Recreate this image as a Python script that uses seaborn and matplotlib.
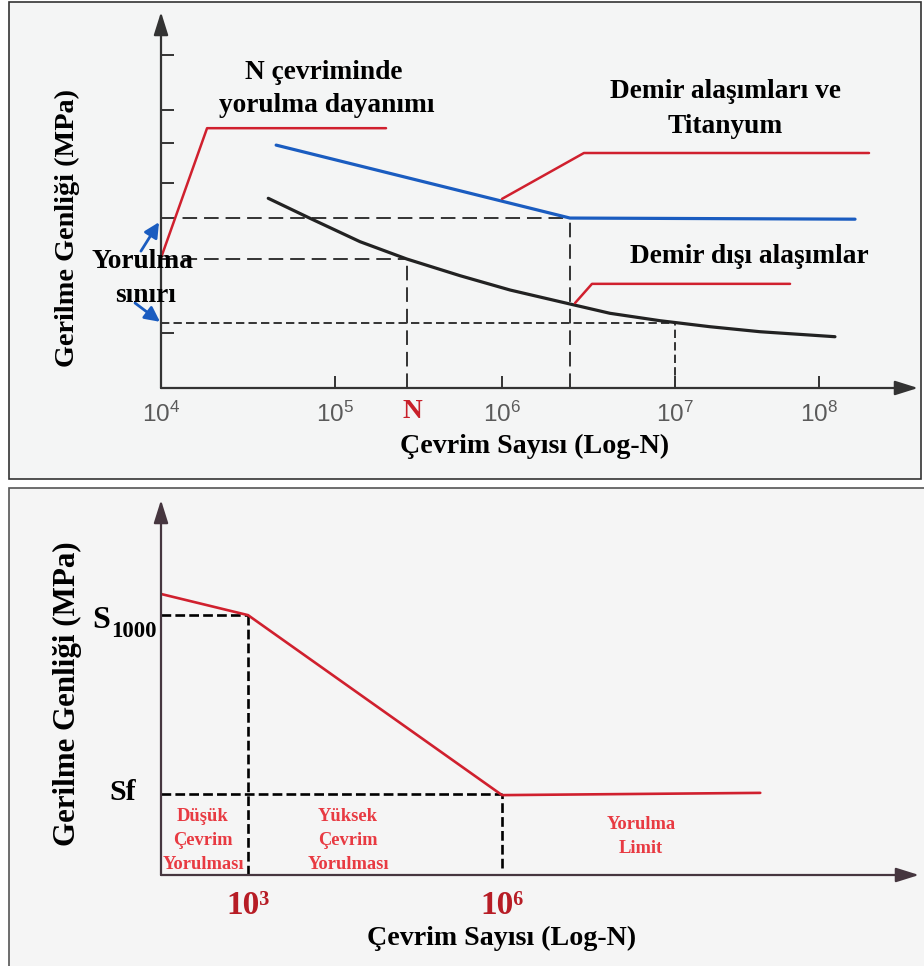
import matplotlib
matplotlib.use("Agg")
import matplotlib.pyplot as plt
import seaborn as sns
import pandas as pd
from matplotlib.patches import Rectangle

# ---------------- data: top panel (x = log10 N position, y = stress amplitude, arbitrary units) -------------
top_tick_pos = [4.0, 5.058, 6.073, 7.125, 8.0]
top_tick_labels = [r"$\mathregular{10^{4}}$", r"$\mathregular{10^{5}}$", r"$\mathregular{10^{6}}$",
                   r"$\mathregular{10^{7}}$", r"$\mathregular{10^{8}}$"]
top_yticks = [88.6, 73.9, 65.2, 54.5, 14.6]

ferrous_x = [4.70, 6.486, 8.219]
ferrous_y = [64.6, 45.2, 44.9]

nonferrous_x = [4.652, 4.906, 5.210, 5.494, 5.818, 6.122, 6.426, 6.729, 7.033, 7.337, 7.641, 8.097]
nonferrous_y = [50.45, 45.13, 38.91, 34.31, 29.87, 26.06, 22.95, 19.87, 17.90, 16.30, 14.97, 13.64]

n_cycle_x, n_strength_y = 5.495, 34.3
ferrous_limit_x, ferrous_limit_y = 6.486, 45.1
nonferrous_limit_x, nonferrous_limit_y = 7.125, 17.4

# leader lines (label pointers)
lead1_x = [4.0, 4.280, 5.368]
lead1_y = [34.6, 69.1, 69.1]
lead2_x = [6.073, 6.571, 8.304]
lead2_y = [50.3, 62.5, 62.5]
lead3_x = [6.517, 6.620, 7.824]
lead3_y = [22.6, 27.7, 27.7]

# ---------------- data: bottom panel (x = log10 N) ----------------
sn_x = [1.98, 3.0, 6.0, 9.05]
sn_y = [74.9, 69.3, 21.3, 21.9]
bottom_tick_pos = [3, 6]
bottom_tick_labels = ["10³", "10⁶"]
s1000_x, s1000_y = 3.0, 69.3
sf_x, sf_y = 6.0, 21.6

# ---------------- style ----------------
sns.set_style("white")
plt.rcParams["font.family"] = ["Liberation Serif", "DejaVu Serif"]
plt.rcParams["lines.scale_dashes"] = False
plt.rcParams["text.color"] = "black"

W, H = 924, 966
fig = plt.figure(figsize=(W / 100, H / 100), dpi=100, facecolor="white")


def fx(px):
    return px / W


def fy(py):
    return 1 - py / H


# panel frames
fig.patches.append(Rectangle((fx(9), fy(479)), fx(921) - fx(9), fy(2) - fy(479),
                             transform=fig.transFigure, facecolor="#f4f5f5",
                             edgecolor="#333333", lw=1.2, zorder=-10))
fig.patches.append(Rectangle((fx(9), fy(975)), fx(935) - fx(9), fy(488) - fy(975),
                             transform=fig.transFigure, facecolor="#f5f5f5",
                             edgecolor="#555555", lw=1.2, zorder=-10))

RED = "#d0202e"
BLUE = "#1a5cc0"
AX = "#333333"
BOLD = dict(fontweight="bold", family=["Liberation Serif", "DejaVu Serif"])

# ================= top panel =================
ax1 = fig.add_axes([fx(161), fy(388), fx(918) - fx(161), fy(12) - fy(388)])
ax1.set_facecolor("none")
for s in ax1.spines.values():
    s.set_visible(False)
ax1.set_xlim(4.0, 4.0 + 757 / 164.5)
ax1.set_ylim(0, 100)

ax1.annotate("", xy=(1, 0), xytext=(0, 0), xycoords="axes fraction",
             arrowprops=dict(arrowstyle="-|>,head_length=0.7,head_width=0.22", color=AX,
                             lw=1.6, shrinkA=0, shrinkB=0, mutation_scale=20))
ax1.annotate("", xy=(0, 1), xytext=(0, 0), xycoords="axes fraction",
             arrowprops=dict(arrowstyle="-|>,head_length=0.7,head_width=0.22", color=AX,
                             lw=1.6, shrinkA=0, shrinkB=0, mutation_scale=20))

ax1.set_xticks(top_tick_pos, top_tick_labels, family="Liberation Sans")
ax1.tick_params(axis="x", bottom=True, direction="in", length=9, width=1.4, color=AX,
                pad=10, labelsize=17.5, labelcolor="#5a5a5a")
ax1.set_yticks(top_yticks, [""] * len(top_yticks))
ax1.tick_params(axis="y", left=True, direction="in", length=9, width=1.4, color=AX)

# guide dashed lines
long_dash = (0, (10.5, 5))
short_dash = (0, (6, 3))
ax1.plot([4.0, ferrous_limit_x], [ferrous_limit_y] * 2, color="#333", lw=1.4, ls=long_dash)
ax1.plot([ferrous_limit_x] * 2, [0, ferrous_limit_y], color="#333", lw=1.4, ls=long_dash)
ax1.plot([4.0, n_cycle_x], [n_strength_y] * 2, color="#333", lw=1.4, ls=long_dash)
ax1.plot([n_cycle_x] * 2, [0, n_strength_y], color="#333", lw=1.4, ls=long_dash)
ax1.plot([4.0, nonferrous_limit_x], [nonferrous_limit_y] * 2, color="#333", lw=1.4, ls=short_dash)
ax1.plot([nonferrous_limit_x] * 2, [0, nonferrous_limit_y], color="#333", lw=1.4, ls=short_dash)

# curves
df_fe = pd.DataFrame({"N": ferrous_x, "S": ferrous_y})
df_nf = pd.DataFrame({"N": nonferrous_x, "S": nonferrous_y})
sns.lineplot(data=df_fe, x="N", y="S", ax=ax1, color=BLUE, lw=2.3, sort=False, estimator=None)
sns.lineplot(data=df_nf, x="N", y="S", ax=ax1, color="#222222", lw=2.3, sort=False, estimator=None)
ax1.set_xlabel("")
ax1.set_ylabel("")

# leader lines
for lx, ly in [(lead1_x, lead1_y), (lead2_x, lead2_y), (lead3_x, lead3_y)]:
    ax1.plot(lx, ly, color=RED, lw=1.8, clip_on=False)

# blue arrows to fatigue limits
for (x0, y0), (x1, y1) in [((3.878, 36.4), (3.988, 44.1)), ((3.842, 22.6), (3.994, 17.6))]:
    ax1.annotate("", xy=(x1, y1), xytext=(x0, y0), annotation_clip=False,
                 arrowprops=dict(arrowstyle="-|>,head_length=0.5,head_width=0.25", color=BLUE,
                                 lw=2.0, shrinkA=0, shrinkB=0, mutation_scale=18))

# texts top
fs = 19.7
fig.text(fx(323.5), fy(79), "N çevriminde", ha="center", va="baseline", fontsize=fs, **BOLD)
fig.text(fx(326.5), fy(112), "yorulma dayanımı", ha="center", va="baseline", fontsize=fs, **BOLD)
fig.text(fx(725), fy(98), "Demir alaşımları ve", ha="center", va="baseline", fontsize=fs, **BOLD)
fig.text(fx(725.5), fy(133), "Titanyum", ha="center", va="baseline", fontsize=fs, **BOLD)
fig.text(fx(749), fy(263), "Demir dışı alaşımlar", ha="center", va="baseline", fontsize=fs, **BOLD)
fig.text(fx(143), fy(268), "Yorulma", ha="center", va="baseline", fontsize=fs, zorder=5, **BOLD)
fig.text(fx(146), fy(302), "sınırı", ha="center", va="baseline", fontsize=fs, zorder=5, **BOLD)
fig.text(fx(412), fy(418), "N", ha="center", va="baseline", fontsize=fs, color="#c8202a", **BOLD)
fig.text(fx(535), fy(453), "Çevrim Sayısı (Log-N)", ha="center", va="baseline", fontsize=20.2, **BOLD)
fig.text(fx(67), fy(228), "Gerilme Genliği (MPa)", ha="center", va="center", rotation=90,
         fontsize=20.3, **BOLD)

# ================= bottom panel =================
AX2 = "#46363f"
ax2 = fig.add_axes([fx(161), fy(875), fx(919) - fx(161), fy(500) - fy(875)])
ax2.set_facecolor("none")
for s in ax2.spines.values():
    s.set_visible(False)
ax2.set_xlim(3 - 87 / 84.67, 3 + 671 / 84.67)
ax2.set_ylim(0, 100)
ax2.annotate("", xy=(1, 0), xytext=(0, 0), xycoords="axes fraction",
             arrowprops=dict(arrowstyle="-|>,head_length=0.7,head_width=0.22", color=AX2,
                             lw=1.6, shrinkA=0, shrinkB=0, mutation_scale=20))
ax2.annotate("", xy=(0, 1), xytext=(0, 0), xycoords="axes fraction",
             arrowprops=dict(arrowstyle="-|>,head_length=0.7,head_width=0.22", color=AX2,
                             lw=1.6, shrinkA=0, shrinkB=0, mutation_scale=20))
ax2.set_xticks(bottom_tick_pos, bottom_tick_labels, fontweight="bold",
               family=["Liberation Serif", "DejaVu Serif"])
ax2.tick_params(axis="x", length=0, pad=11, labelsize=24, labelcolor="#b71c25")
ax2.set_yticks([])

dash2 = (0, (7, 3))
ax2.plot([ax2.get_xlim()[0], s1000_x], [s1000_y] * 2, color="black", lw=1.9, ls=dash2)
ax2.plot([s1000_x] * 2, [0, s1000_y], color="black", lw=1.9, ls=dash2)
ax2.plot([ax2.get_xlim()[0], sf_x], [sf_y] * 2, color="black", lw=1.9, ls=dash2)
ax2.plot([sf_x] * 2, [1.9, sf_y], color="black", lw=1.9, ls=dash2)

df_sn = pd.DataFrame({"N": sn_x, "S": sn_y})
sns.lineplot(data=df_sn, x="N", y="S", ax=ax2, color=RED, lw=1.9, sort=False, estimator=None)
ax2.set_xlabel("")
ax2.set_ylabel("")

# texts bottom
fig.text(fx(92), fy(628), "S", ha="left", va="baseline", fontsize=23, **BOLD)
fig.text(fx(111), fy(637), "1000", ha="left", va="baseline", fontsize=16.5, **BOLD)
fig.text(fx(123), fy(800), "Sf", ha="center", va="baseline", fontsize=21.5, **BOLD)

RED2 = "#e83a42"
fs2 = 13.3
for cx, lines in [(203, ["Düşük", "Çevrim", "Yorulması"]), (348, ["Yüksek", "Çevrim", "Yorulması"])]:
    for ln, by in zip(lines, [821, 845, 869]):
        fig.text(fx(cx), fy(by), ln, ha="center", va="baseline", fontsize=fs2, color=RED2, **BOLD)
for ln, by in zip(["Yorulma", "Limit"], [829, 853]):
    fig.text(fx(641), fy(by), ln, ha="center", va="baseline", fontsize=fs2, color=RED2, **BOLD)

fig.text(fx(502), fy(945), "Çevrim Sayısı (Log-N)", ha="center", va="baseline", fontsize=20.2, **BOLD)
fig.text(fx(67), fy(694), "Gerilme Genliği (MPa)", ha="center", va="center", rotation=90,
         fontsize=22.3, **BOLD)

fig.savefig("out.png", dpi=100, facecolor="white")
